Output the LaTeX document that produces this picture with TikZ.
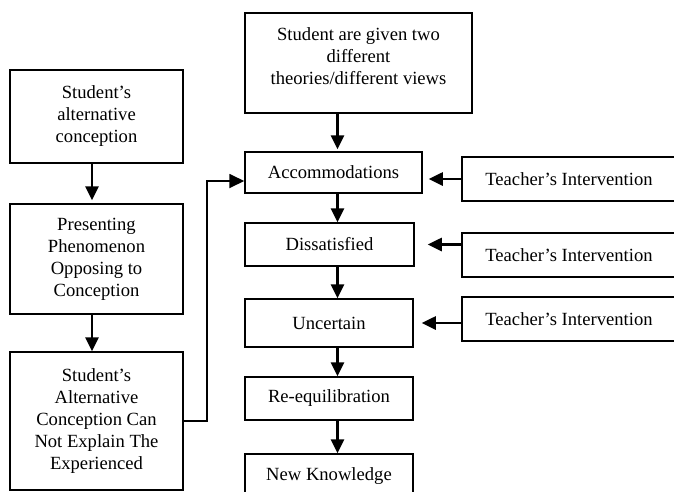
\documentclass[tikz,border=0pt]{standalone}
\usepackage{fontspec}
\setmainfont{Liberation Serif}
\usetikzlibrary{arrows.meta, positioning}

\begin{document}
\begin{tikzpicture}[
        x=1pt, y=-1pt,
        stagebox/.style={
            draw,
            line width=1.5pt,
            align=center,
            inner sep=2pt,
            font=\fontsize{18.6}{22}\selectfont
        },
        flowlink/.style={-{Triangle[length=14pt,width=13pt]}, line width=2.6pt},
        elbowlink/.style={-{Triangle[length=15pt,width=14pt]}, line width=1.8pt}
    ]
        \useasboundingbox (0,0) rectangle (674,491);
        \clip (0,0) rectangle (674,491);

        % left column
        \node[stagebox, minimum width=173pt, minimum height=93pt] (altconc) at (96.5,116.5)
            {Student's\\alternative\\conception};
        \node[stagebox, minimum width=173pt, minimum height=110pt] (phenom) at (96.5,259)
            {Presenting\\Phenomenon\\Opposing to\\Conception};
        \node[stagebox, minimum width=173pt, minimum height=138pt] (cannot) at (96.5,421)
            {Student's\\Alternative\\Conception Can\\Not Explain The\\Experienced};

        % middle column
        \node[stagebox, minimum width=227pt, minimum height=100pt, text depth=13pt] (theories) at (358.5,63)
            {Student are given two\\different\\theories/different views};
        \node[stagebox, minimum width=177pt, minimum height=41pt] (accom) at (333.5,172.5)
            {Accommodations};
        \node[stagebox, minimum width=169pt, minimum height=43pt] (dissat) at (329.5,244.5)
            {Dissatisfied};
        \node[stagebox, minimum width=168pt, minimum height=48pt] (uncert) at (329,323)
            {Uncertain};
        \node[stagebox, minimum width=168pt, minimum height=43pt] (reequil) at (329,398.5)
            {Re-equilibration};
        \node[stagebox, minimum width=168pt, minimum height=44pt] (newknow) at (329,476)
            {New Knowledge};

        % right column
        \node[stagebox, minimum width=214pt, minimum height=44pt] (teachA) at (569,179)
            {Teacher's Intervention};
        \node[stagebox, minimum width=214pt, minimum height=44pt] (teachB) at (569,255)
            {Teacher's Intervention};
        \node[stagebox, minimum width=214pt, minimum height=44pt] (teachC) at (569,319)
            {Teacher's Intervention};

        \coordinate (leftspine) at (92,0);
        \coordinate (midspine) at (337.5,0);
        \coordinate (elbow) at (207,181);

        \draw[flowlink, shorten >=3pt] (altconc.south -| leftspine) -- (phenom.north -| leftspine);
        \draw[flowlink] (phenom.south -| leftspine) -- (cannot.north -| leftspine);
        \draw[elbowlink] (cannot.east) -| (elbow) -- (accom.west |- elbow);

        \draw[flowlink, shorten >=2pt] (theories.south -| midspine) -- (accom.north -| midspine);
        \draw[flowlink] (accom.south -| midspine) -- (dissat.north -| midspine);
        \draw[flowlink] (dissat.south -| midspine) -- (uncert.north -| midspine);
        \draw[flowlink] (uncert.south -| midspine) -- (reequil.north -| midspine);
        \draw[flowlink] (reequil.south -| midspine) -- (newknow.north -| midspine);

        \draw[flowlink, shorten >=6pt] (teachA.west) -- (accom.east |- teachA.west);
        \draw[flowlink, shorten >=13pt] (teachB.west |- dissat.east) -- (dissat.east);
        \draw[flowlink, shorten >=8pt] (teachC.west |- uncert.east) -- (uncert.east);
    \end{tikzpicture}
\end{document}
